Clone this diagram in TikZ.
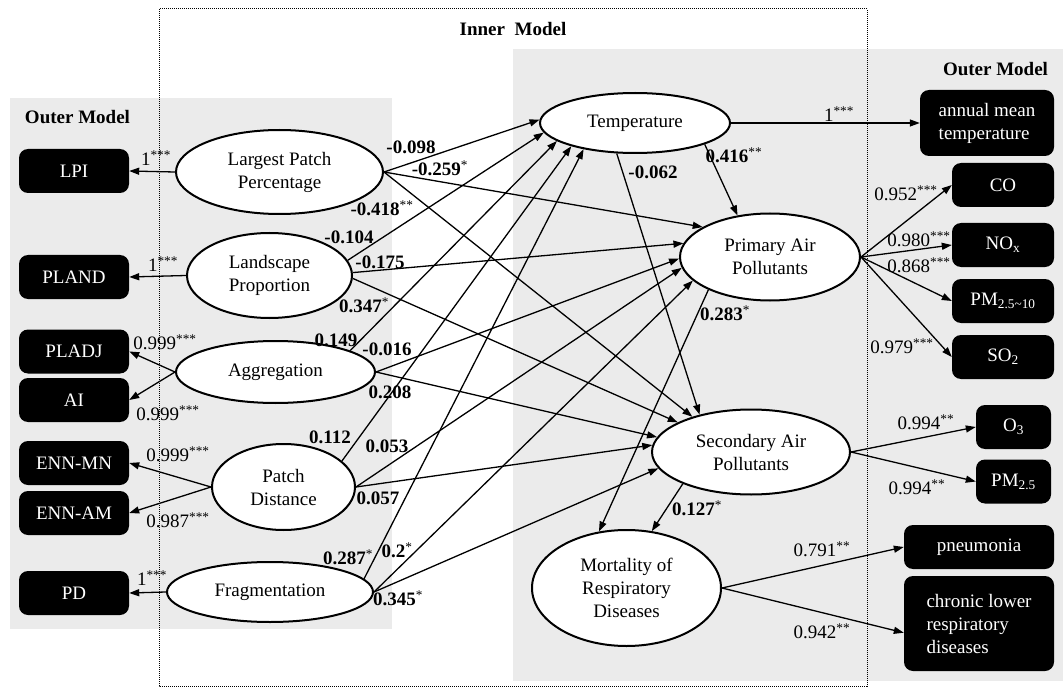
\documentclass[tikz,border=0pt]{standalone}
\usepackage{fontspec}
\setmainfont{Liberation Serif}
\usetikzlibrary{shapes.geometric,arrows.meta}
\definecolor{panelgray}{RGB}{235,235,235}
\newcommand{\sig}[1]{\textsuperscript{\mdseries #1}}

\begin{document}
\begin{tikzpicture}[x=1pt,y=-1pt,
    font=\fontsize{19}{23}\selectfont,
    latent/.style={ellipse, draw, line width=2pt, fill=white, inner sep=0pt, align=center},
    manifest/.style={rounded corners=9pt, fill=black, text=white, inner sep=0pt, align=center},
    link/.style={line width=1.3pt, -{Triangle[length=10pt,width=7pt]}},
    coef/.style={inner sep=0pt, font=\fontsize{19}{23}\selectfont\bfseries},
    loading/.style={inner sep=0pt}]
    \useasboundingbox (0,0) rectangle (1063,687);

    % Drawing the grey panels of the outer models
    \fill[panelgray] (10,98) rectangle (392,629);
    \fill[panelgray] (513,49) rectangle (1063,681);

    % Drawing the inner model frame
    \draw[densely dotted, line width=1pt] (159,9) rectangle (867,686);
    \node[coef] (innertitle) at (513,29) {Inner\ \ Model};
    \node[coef] (outerleft) at (77.5,117) {Outer Model};
    \node[coef] (outerright) at (995.5,69) {Outer Model};

    % Drawing the latent variables
    \node[latent, minimum width=207pt, minimum height=84pt] (lpp) at (279.5,172) {Largest Patch\\Percentage};
    \node[latent, minimum width=165pt, minimum height=85pt] (landprop) at (269.5,275.5) {Landscape\\Proportion};
    \node[latent, minimum width=199pt, minimum height=62pt] (aggreg) at (275.5,372) {Aggregation};
    \node[latent, minimum width=143pt, minimum height=86pt] (patchdist) at (283.5,487) {Patch\\Distance};
    \node[latent, minimum width=206pt, minimum height=60pt] (fragm) at (270,592) {Fragmentation};
    \node[latent, minimum width=190pt, minimum height=60pt] (temp) at (635,123) {Temperature};
    \node[latent, minimum width=180pt, minimum height=87pt] (primary) at (770,257) {Primary Air\\Pollutants};
    \node[latent, minimum width=198pt, minimum height=85pt] (secondary) at (751,452) {Secondary Air\\Pollutants};
    \node[latent, minimum width=189pt, minimum height=116pt] (mortality) at (626.5,588) {Mortality of\\Respiratory\\Diseases};

    % Drawing the indicators (left)
    \node[manifest, minimum width=110pt, minimum height=44pt] (lpi) at (74,171) {LPI};
    \node[manifest, minimum width=110pt, minimum height=44pt] (pland) at (74,277) {PLAND};
    \node[manifest, minimum width=110pt, minimum height=44pt] (pladj) at (74,351.5) {PLADJ};
    \node[manifest, minimum width=110pt, minimum height=44pt] (ai) at (74,400) {AI};
    \node[manifest, minimum width=110pt, minimum height=44pt] (ennmn) at (74,463) {ENN-MN};
    \node[manifest, minimum width=110pt, minimum height=44pt] (ennam) at (74,513) {ENN-AM};
    \node[manifest, minimum width=110pt, minimum height=44pt] (pdbox) at (74,593) {PD};

    % Drawing the indicators (right)
    \node[manifest, minimum width=134pt, minimum height=66pt, align=left] (annual) at (987,123) {annual mean\\temperature};
    \node[manifest, minimum width=102pt, minimum height=44pt] (co) at (1003,185) {CO};
    \node[manifest, minimum width=102pt, minimum height=44pt] (nox) at (1003,245) {NO\textsubscript{x}};
    \node[manifest, minimum width=102pt, minimum height=44pt] (pmcoarse) at (1003,301) {PM\textsubscript{2.5\textasciitilde10}};
    \node[manifest, minimum width=102pt, minimum height=44pt] (sotwo) at (1003,357) {SO\textsubscript{2}};
    \node[manifest, minimum width=75pt, minimum height=44pt] (othree) at (1013.5,427) {O\textsubscript{3}};
    \node[manifest, minimum width=75pt, minimum height=44pt] (pmfine) at (1013.5,481.5) {PM\textsubscript{2.5}};
    \node[manifest, minimum width=150pt, minimum height=44pt] (pneumonia) at (979,547) {pneumonia};
    \node[manifest, minimum width=150pt, minimum height=95pt, align=left] (chronic) at (979,623.5) {chronic lower\\respiratory\\diseases};

    % Drawing the outer loadings
    \draw[link] (lpp.west) -- (lpi.east);
    \draw[link] (landprop.west) -- (pland.east);
    \draw[link] (aggreg.west) -- (pladj.east);
    \draw[link] (aggreg.west) -- (ai.east);
    \draw[link] (patchdist.west) -- (ennmn.east);
    \draw[link] (patchdist.west) -- (ennam.east);
    \draw[link] (fragm.west) -- (pdbox.east);
    \draw[link] (temp.east) -- (annual.west);
    \draw[link] (primary.east) -- (co.west);
    \draw[link] (primary.east) -- (nox.west);
    \draw[link] (primary.east) -- (pmcoarse.west);
    \draw[link] (primary.east) -- (sotwo.west);
    \draw[link] (secondary.east) -- (othree.west);
    \draw[link] (secondary.east) -- (pmfine.west);
    \draw[link] (mortality.east) -- (pneumonia.west);
    \draw[link] (mortality.east) -- (chronic.187);

    % Drawing the paths to Temperature
    \draw[link] (lpp.east) -- (temp.178);
    \draw[link] (landprop.11) -- (temp.186);
    \draw[link] (aggreg.16) -- (temp.193);
    \draw[link] (patchdist.24) -- (temp.200);
    \draw[link] (fragm.8) -- (temp.207);

    % Drawing the paths to Primary Air Pollutants
    \draw[link] (lpp.east) -- (primary.156);
    \draw[link] (landprop.2) -- (primary.171);
    \draw[link] (aggreg.east) -- (primary.181);
    \draw[link] (patchdist.east) -- (primary.187);
    \draw[link] (fragm.east) -- (primary.197);
    \draw[link] (temp.-17) -- (primary.128);

    % Drawing the paths to Secondary Air Pollutants
    \draw[link] (lpp.east) -- (secondary.149);
    \draw[link] (landprop.-2) -- (secondary.158);
    \draw[link] (aggreg.east) -- (secondary.171);
    \draw[link] (patchdist.east) -- (secondary.176);
    \draw[link] (fragm.east) -- (secondary.190);
    \draw[link] (temp.239) -- (secondary.144);

    % Drawing the paths to Mortality
    \draw[link] (primary.208) -- (mortality.116);
    \draw[link] (secondary.205) -- (mortality.66);

    % Path coefficients
    \node[coef] (cLppTemp) at (411,147) {-0.098};
    \node[coef] (cLppPrim) at (440,168) {-0.259\sig{*}};
    \node[coef] (cLppSec) at (382,208) {-0.418\sig{**}};
    \node[coef] (cLpTemp) at (349,237) {-0.104};
    \node[coef] (cLpPrim) at (380,262) {-0.175};
    \node[coef] (cLpSec) at (364,305) {0.347\sig{*}};
    \node[coef] (cAggTemp) at (336,340) {0.149};
    \node[coef] (cAggPrim) at (387,349) {-0.016};
    \node[coef] (cAggSec) at (390,392) {0.208};
    \node[coef] (cPdTemp) at (330,437) {0.112};
    \node[coef] (cPdPrim) at (387,446) {0.053};
    \node[coef] (cPdSec) at (378,498) {0.057};
    \node[coef] (cFrTemp) at (348,557) {0.287\sig{*}};
    \node[coef] (cFrPrim) at (397,550) {0.2\sig{*}};
    \node[coef] (cFrSec) at (398,598) {0.345\sig{*}};
    \node[coef] (cTempSec) at (653,172) {-0.062};
    \node[coef] (cTempPrim) at (734,155) {0.416\sig{**}};
    \node[coef] (cPrimMort) at (725,313) {0.283\sig{*}};
    \node[coef] (cSecMort) at (697,508) {0.127\sig{*}};

    % Outer loadings values
    \node[loading] (lLpi) at (156,158) {1\sig{***}};
    \node[loading] (lPland) at (163,264) {1\sig{***}};
    \node[loading] (lPladj) at (165,342) {0.999\sig{***}};
    \node[loading] (lAi) at (168,413) {0.999\sig{***}};
    \node[loading] (lEnnmn) at (178,454) {0.999\sig{***}};
    \node[loading] (lEnnam) at (178,520) {0.987\sig{***}};
    \node[loading] (lPd) at (152,578) {1\sig{***}};
    \node[loading] (lAnnual) at (839,114) {1\sig{***}};
    \node[loading] (lCo) at (906,193) {0.952\sig{***}};
    \node[loading] (lNox) at (919,239) {0.980\sig{***}};
    \node[loading] (lPmc) at (919,265) {0.868\sig{***}};
    \node[loading] (lSo) at (902,346) {0.979\sig{***}};
    \node[loading] (lOthree) at (926,422) {0.994\sig{**}};
    \node[loading] (lPmf) at (917,487) {0.994\sig{**}};
    \node[loading] (lPneu) at (822,549) {0.791\sig{**}};
    \node[loading] (lChronic) at (822,631) {0.942\sig{**}};
\end{tikzpicture}
\end{document}
